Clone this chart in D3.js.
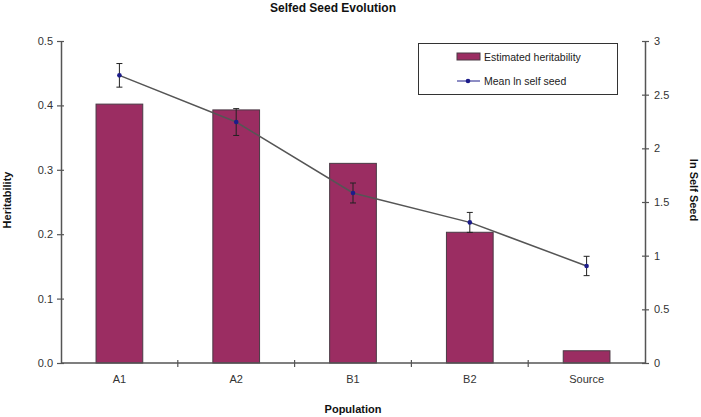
<!DOCTYPE html>
<html><head><meta charset="utf-8">
<script src="https://cdn.jsdelivr.net/npm/d3@7"></script>
<style>body{margin:0;background:#fff}text{font-family:Arial,"Liberation Sans",sans-serif}</style>
</head><body><svg id="c" width="701" height="417"></svg>
<script>
const categories = ["A1","A2","B1","B2","Source"];
const heritability = [0.402,0.393,0.310,0.203,0.019];
const meanLnSelfSeed = [2.68,2.245,1.584,1.31,0.904];
const meanError = [0.11,0.125,0.093,0.093,0.09];
const leftTicks = [0,0.1,0.2,0.3,0.4,0.5];
const rightTicks = [0,0.5,1,1.5,2,2.5,3];

const svg = d3.select("#c");
const L=61,R=645,T=41,B=363;
const x = d3.scaleBand().domain(categories).range([L,R]);
const yL = d3.scaleLinear().domain([0,0.5]).range([B,T]);
const yR = d3.scaleLinear().domain([0,3]).range([B,T]);
const axisCol="#555", txtCol="#333";

// bars
const bw = x.bandwidth()*0.4;
svg.selectAll("rect.bar").data(categories).join("rect")
  .attr("x",d=>x(d)+x.bandwidth()/2-bw/2)
  .attr("y",(d,i)=>yL(heritability[i]))
  .attr("width",bw)
  .attr("height",(d,i)=>B-yL(heritability[i]))
  .attr("fill","#9b2d62").attr("stroke","#4a3a45").attr("stroke-width",1);

// axes
function styleAxis(g){
  g.select(".domain").attr("stroke",axisCol).attr("stroke-width",1.5);
  g.selectAll(".tick line").attr("stroke",axisCol).attr("stroke-width",1.2);
  g.selectAll(".tick text").attr("fill",txtCol).attr("font-size",11);
}
const gl = svg.append("g").attr("transform",`translate(${L},0)`)
  .call(d3.axisLeft(yL).tickValues(leftTicks).tickFormat(d3.format(".1f")).tickSize(4).tickSizeOuter(0).tickPadding(4));
gl.selectAll(".tick line").attr("x2",-4).attr("x1",3);
styleAxis(gl);
const gr = svg.append("g").attr("transform",`translate(${R},0)`)
  .call(d3.axisRight(yR).tickValues(rightTicks).tickFormat(d=>d).tickSize(4).tickSizeOuter(0).tickPadding(5));
gr.selectAll(".tick line").attr("x1",-3);
styleAxis(gr);
const gx = svg.append("g").attr("transform",`translate(0,${B})`)
  .call(d3.axisBottom(x).tickSize(0).tickPadding(12));
gx.select(".domain").attr("d",`M${L},0H${R}`);
styleAxis(gx);
// x boundary ticks
svg.selectAll("line.xt").data(categories.slice(1)).join("line")
  .attr("x1",d=>x(d)).attr("x2",d=>x(d)).attr("y1",B-3).attr("y2",B+4)
  .attr("stroke",axisCol).attr("stroke-width",1.2);

// line
const cx = d=>x(d)+x.bandwidth()/2;
svg.append("path").datum(categories)
  .attr("d",d3.line().x(cx).y((d,i)=>yR(meanLnSelfSeed[i])))
  .attr("fill","none").attr("stroke","#555").attr("stroke-width",1.5);
// error bars
const eb = svg.selectAll("g.eb").data(categories).join("g");
eb.append("line").attr("x1",cx).attr("x2",cx)
  .attr("y1",(d,i)=>yR(meanLnSelfSeed[i]+meanError[i]))
  .attr("y2",(d,i)=>yR(meanLnSelfSeed[i]-meanError[i]))
  .attr("stroke","#222").attr("stroke-width",1);
[1,-1].forEach(s=>{
  eb.append("line").attr("x1",d=>cx(d)-3).attr("x2",d=>cx(d)+3)
    .attr("y1",(d,i)=>yR(meanLnSelfSeed[i]+s*meanError[i]))
    .attr("y2",(d,i)=>yR(meanLnSelfSeed[i]+s*meanError[i]))
    .attr("stroke","#222").attr("stroke-width",1);
});
eb.append("circle").attr("cx",cx).attr("cy",(d,i)=>yR(meanLnSelfSeed[i])).attr("r",2.3).attr("fill","#1c1c8a");

// titles
svg.append("text").attr("x",333).attr("y",12).attr("text-anchor","middle")
  .attr("font-size",12).attr("font-weight","bold").attr("fill","#111").text("Selfed Seed Evolution");
svg.append("text").attr("x",353).attr("y",413).attr("text-anchor","middle")
  .attr("font-size",11).attr("font-weight","bold").attr("fill","#111").text("Population");
svg.append("text").attr("transform","translate(11,200) rotate(-90)").attr("text-anchor","middle")
  .attr("font-size",11).attr("font-weight","bold").attr("fill","#111").text("Heritability");
svg.append("text").attr("transform","translate(690,190) rotate(90)").attr("text-anchor","middle")
  .attr("font-size",11).attr("font-weight","bold").attr("fill","#111").text("ln Self Seed");

// legend
const lg = svg.append("g");
lg.append("rect").attr("x",418.5).attr("y",43.5).attr("width",199).attr("height",51)
  .attr("fill","#fff").attr("stroke","#333").attr("stroke-width",1);
lg.append("rect").attr("x",457).attr("y",53).attr("width",23).attr("height",7)
  .attr("fill","#9b2d62").attr("stroke","#4a3a45");
lg.append("text").attr("x",484).attr("y",61).attr("font-size",10.5).attr("fill","#222").text("Estimated heritability");
lg.append("line").attr("x1",457).attr("x2",480).attr("y1",81).attr("y2",81).attr("stroke","#1c1c8a").attr("stroke-width",1);
lg.append("circle").attr("cx",468).attr("cy",81).attr("r",2.3).attr("fill","#1c1c8a");
lg.append("text").attr("x",484).attr("y",85).attr("font-size",10.5).attr("fill","#222").text("Mean ln self seed");
</script></body></html>
